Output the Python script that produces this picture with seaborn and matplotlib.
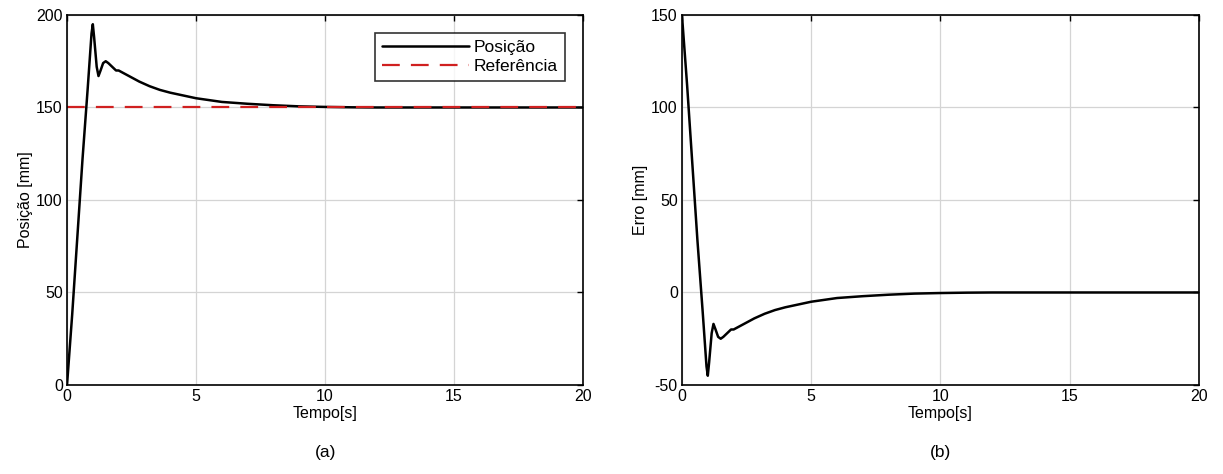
import numpy as np
import pandas as pd
import matplotlib
matplotlib.use("Agg")
import matplotlib.pyplot as plt
import seaborn as sns

# Step response of the position controller
tempo = [0, 0.2, 0.4, 0.6, 0.8, 0.95, 1.0, 1.05, 1.15, 1.22, 1.3, 1.4, 1.5, 1.6,
         1.75, 1.9, 2.0, 2.4, 2.8, 3.2, 3.6, 4.0, 4.5, 5.0, 5.5, 6.0, 7.0, 8.0,
         9.0, 10.0, 11.0, 12.0, 20.0]
posicao = [0, 38, 80, 122, 160, 190, 195, 188, 172, 167, 170, 174, 175, 174,
           172, 170, 170, 167, 164, 161.5, 159.5, 158, 156.5, 155, 154, 153,
           152, 151.2, 150.6, 150.3, 150.1, 150, 150]
referencia = 150.0
erro = [referencia - p for p in posicao]

df = pd.DataFrame({"Tempo": tempo, "Posição": posicao, "Erro": erro,
                   "Referência": [referencia] * len(tempo)})

sns.set_theme(style="white")
plt.rcParams["font.family"] = ["Liberation Sans", "DejaVu Sans"]
plt.rcParams["axes.unicode_minus"] = False
plt.rcParams["text.color"] = "black"
plt.rcParams["axes.labelcolor"] = "black"

fig = plt.figure(figsize=(12.23, 4.74), dpi=100)
ax1 = fig.add_axes([0.0548, 0.1878, 0.4219, 0.7806])
ax2 = fig.add_axes([0.5576, 0.1878, 0.4227, 0.7806])

sns.lineplot(data=df, x="Tempo", y="Posição", ax=ax1, color="black",
             linewidth=1.8, label="Posição")
sns.lineplot(data=df, x="Tempo", y="Referência", ax=ax1, color="#d02020",
             linewidth=1.6, linestyle=(0, (8, 5)), label="Referência")
sns.lineplot(data=df, x="Tempo", y="Erro", ax=ax2, color="black",
             linewidth=1.8, legend=False)

for ax, ylim, yticks, ylabel in [
        (ax1, (0, 200), [0, 50, 100, 150, 200], "Posição [mm]"),
        (ax2, (-50, 150), [-50, 0, 50, 100, 150], "Erro [mm]")]:
    ax.set_xlim(0, 20)
    ax.set_ylim(*ylim)
    ax.set_xticks([0, 5, 10, 15, 20])
    ax.set_yticks(yticks)
    ax.grid(True, color="#d4d4d4", linewidth=0.9)
    ax.set_axisbelow(True)
    ax.tick_params(direction="in", length=4, width=1, labelsize=11.5,
                   top=True, right=True, colors="black", pad=3)
    for s in ax.spines.values():
        s.set_color("black")
        s.set_linewidth(1.2)
    ax.set_xlabel("Tempo[s]", fontsize=11.5, labelpad=1)
    ax.set_ylabel(ylabel, fontsize=11.5, labelpad=2)

leg = ax1.legend(loc="upper right", bbox_to_anchor=(0.982, 0.975),
                 fontsize=12.5, handlelength=5.0, handletextpad=0.3,
                 borderpad=0.4, labelspacing=0.25, frameon=True,
                 fancybox=False, edgecolor="black")
leg.get_frame().set_linewidth(1.2)

fig.text(0.2658, 0.035, "(a)", ha="center", fontsize=12.5)
fig.text(0.769, 0.035, "(b)", ha="center", fontsize=12.5)

fig.savefig("out.png", dpi=100, facecolor="white")
